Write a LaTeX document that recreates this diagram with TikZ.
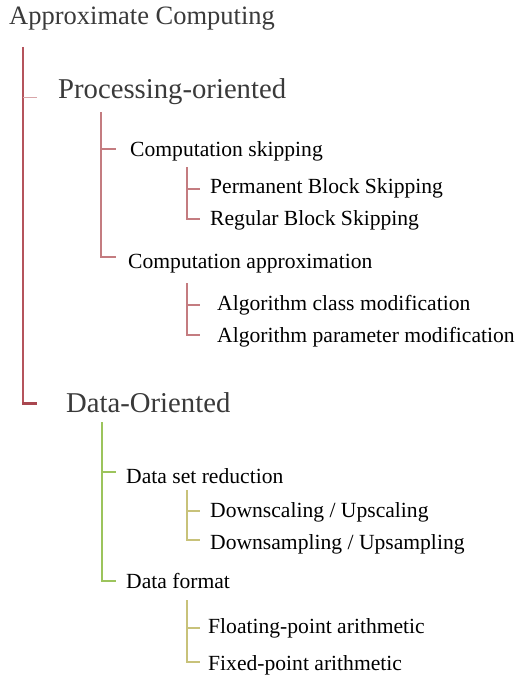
\documentclass[tikz,border=0pt]{standalone}
\usepackage{fontspec}
\setmainfont{Liberation Serif}
\definecolor{topgray}{HTML}{3A3A3A}
\definecolor{redmain}{HTML}{B5545C}
\definecolor{redlight}{HTML}{D8A5A8}
\definecolor{reddark}{HTML}{A9474F}
\definecolor{redsub}{HTML}{C47C80}
\definecolor{greenmain}{HTML}{9CC45C}
\definecolor{khaki}{HTML}{C8C27A}
\begin{document}
\begin{tikzpicture}[x=1pt,y=-1pt,
  titlefont/.style={anchor=base west,inner sep=0pt,text=topgray,font=\fontsize{26.5}{30}\selectfont},
  topnode/.style={anchor=base west,inner sep=0pt,text=topgray,font=\fontsize{28.7}{32}\selectfont},
  subnode/.style={anchor=base west,inner sep=0pt,text=black,font=\fontsize{21.6}{25}\selectfont},
  mainline/.style={draw=redmain,line width=1.5pt},
  lightline/.style={draw=redlight,line width=1pt},
  darkline/.style={draw=reddark,line width=3pt},
  redline/.style={draw=redsub,line width=1.2pt},
  greenline/.style={draw=greenmain,line width=2pt},
  khakiline/.style={draw=khaki,line width=1.5pt}]
\useasboundingbox (0,0) rectangle (516,677);
% nodes
\node[titlefont] (root) at (9,25) {Approximate Computing};
\node[topnode] (proc) at (58,99) {Processing-oriented};
\node[subnode] (cskip) at (130,156) {Computation skipping};
\node[subnode] (perm) at (210,193) {Permanent Block Skipping};
\node[subnode] (reg) at (210,225) {Regular Block Skipping};
\node[subnode] (capp) at (128,268) {Computation approximation};
\node[subnode] (aclass) at (217,310) {Algorithm class modification};
\node[subnode] (apar) at (217,342) {Algorithm parameter modification};
\node[topnode] (data) at (66,412) {Data-Oriented};
\node[subnode] (dsr) at (126,483) {Data set reduction};
\node[subnode] (dscale) at (210,517) {Downscaling / Upscaling};
\node[subnode] (dsamp) at (210,549) {Downsampling / Upsampling};
\node[subnode] (dfmt) at (126,588) {Data format};
\node[subnode] (flp) at (208,633) {Floating-point arithmetic};
\node[subnode] (fxp) at (208,670) {Fixed-point arithmetic};
% coordinates
\coordinate (r0) at (23,47);
\coordinate (r1) at (23,403);
\coordinate (rb1) at (37,97);
\coordinate (rb2) at (37,403);
\coordinate (p0) at (101,112);
\coordinate (p1) at (101,257);
\coordinate (pb1) at (116,149);
\coordinate (pb2) at (116,257);
\coordinate (s0) at (187,167);
\coordinate (sb1) at (200,189);
\coordinate (sb2) at (200,219);
\coordinate (a0) at (187,283);
\coordinate (ab1) at (200,305);
\coordinate (ab2) at (200,335);
\coordinate (d0) at (102,422);
\coordinate (db1) at (116,472);
\coordinate (db2) at (116,581);
\coordinate (e0) at (187,490);
\coordinate (eb1) at (200,511);
\coordinate (eb2) at (200,540);
\coordinate (f0) at (187,600);
\coordinate (fb1) at (200,628);
\coordinate (fb2) at (200,662);
% connectors
\draw[mainline] (r0) -- (r1);
\draw[lightline] (r0 |- rb1) -- (rb1);
\draw[darkline] ([xshift=-0.75pt]r1) -- (rb2);
\draw[redline] (p0) |- (pb2);
\draw[redline] (p0 |- pb1) -- (pb1);
\draw[redline] (s0) |- (sb2);
\draw[redline] (s0 |- sb1) -- (sb1);
\draw[redline] (a0) |- (ab2);
\draw[redline] (a0 |- ab1) -- (ab1);
\draw[greenline] (d0) |- (db2);
\draw[greenline] (d0 |- db1) -- (db1);
\draw[khakiline] (e0) |- (eb2);
\draw[khakiline] (e0 |- eb1) -- (eb1);
\draw[khakiline] (f0) |- (fb2);
\draw[khakiline] (f0 |- fb1) -- (fb1);
\end{tikzpicture}
\end{document}
